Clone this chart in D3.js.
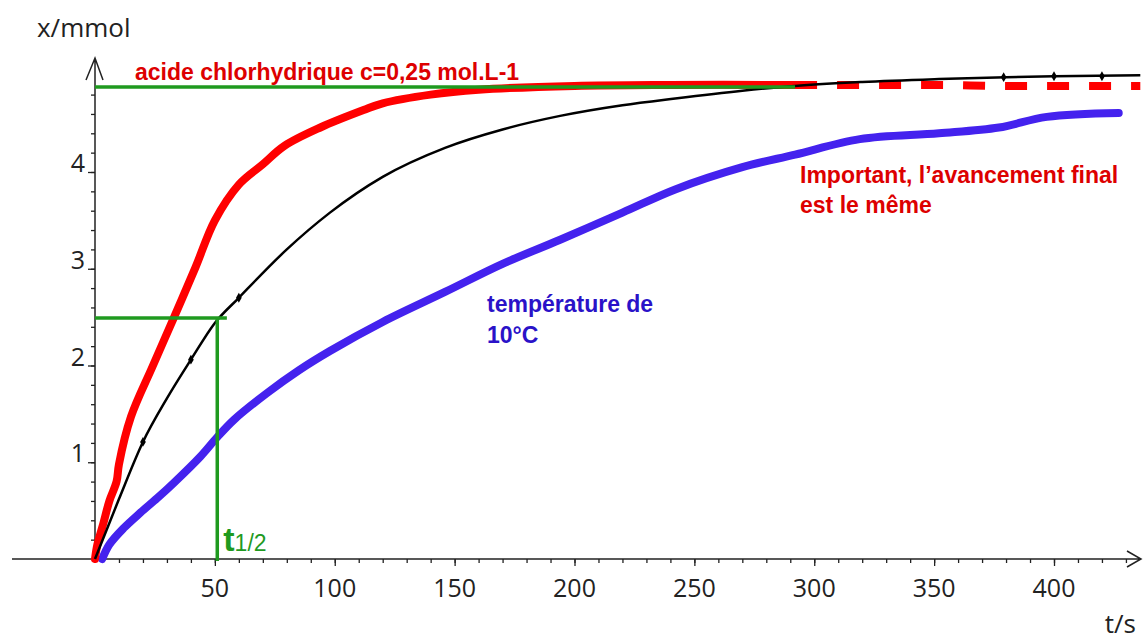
<!DOCTYPE html>
<html>
<head>
<meta charset="utf-8">
<script src="https://cdn.jsdelivr.net/npm/d3@7"></script>
<style>
  body { margin: 0; background: #fff; }
</style>
</head>
<body>
<script>
// ==== data ====
var redTimes = [0, 1, 3.5, 6, 9, 10, 15, 24, 33, 42, 50, 60, 70, 79, 94, 112, 120, 140, 160, 200, 240, 292];
var redValues = [0, 0.15, 0.37, 0.6, 0.8, 0.98, 1.47, 1.99, 2.5, 3.02, 3.5, 3.87, 4.08, 4.27, 4.46, 4.64, 4.71, 4.8, 4.85, 4.89, 4.9, 4.9];

var redDashTimes = [292, 320, 350, 380, 410, 436];
var redDashValues = [4.9, 4.9, 4.9, 4.89, 4.89, 4.89];

var blackTimes = [0, 10, 20, 30, 40, 50, 60, 80, 98, 120, 146, 170, 194, 220, 242, 270, 292, 320, 352, 380, 400, 436];
var blackValues = [0, 0.62, 1.21, 1.66, 2.06, 2.44, 2.7, 3.2, 3.58, 3.95, 4.25, 4.44, 4.58, 4.69, 4.76, 4.84, 4.89, 4.93, 4.96, 4.98, 4.99, 5.0];

var markerTimes = [20, 40, 60, 379, 400, 420];
var markerValues = [1.21, 2.06, 2.7, 4.98, 4.99, 4.99];

var blueTimes = [3, 6, 12, 19, 26, 33, 44, 51, 58, 72, 85, 98, 120, 146, 170, 194, 220, 242, 270, 292, 319, 352, 377, 397, 427];
var blueValues = [0, 0.15, 0.32, 0.48, 0.63, 0.79, 1.06, 1.26, 1.44, 1.72, 1.95, 2.15, 2.45, 2.76, 3.05, 3.3, 3.58, 3.82, 4.05, 4.18, 4.34, 4.4, 4.46, 4.57, 4.61];

var xMajorTicks = [50, 100, 150, 200, 250, 300, 350, 400];
var yMajorTicks = [1, 2, 3, 4];

var finalValue = 4.9,
    finalEnd = 292,
    halfTime = 51,
    halfValue = 2.49,
    halfEnd = 55;

function draw_chart(elem) {

    var red_col = "#ff0000",
        blue_col = "#4422ee",
        green_col = "#1f9a1f",
        text_red = "#dd0000",
        text_blue = "#2a12c8",
        axis_col = "#222";

    var width = 1143,
        height = 641;

    var svg = d3.select(elem)
        .append("svg")
        .attr("width", width)
        .attr("height", height);

    var x = d3.scaleLinear()
        .domain([0, 400])
        .range([95, 1054]);

    var y = d3.scaleLinear()
        .domain([0, 4])
        .range([559, 172]);

    // ==== axes ====
    var xMinor = d3.range(10, 440, 10);
    var yMinor = d3.range(1, 25).map(function(i) { return i * 0.2; });

    svg.append("g")
        .attr("transform", "translate(0," + y(0) + ")")
        .call(d3.axisBottom(x).tickValues(xMinor).tickSize(4).tickFormat(""))
        .call(function(g) { g.select(".domain").remove(); });

    svg.append("g")
        .attr("transform", "translate(0," + y(0) + ")")
        .call(d3.axisBottom(x).tickValues(xMajorTicks).tickSize(7).tickFormat(""))
        .call(function(g) { g.select(".domain").remove(); });

    svg.append("g")
        .attr("transform", "translate(" + x(0) + ",0)")
        .call(d3.axisLeft(y).tickValues(yMinor).tickSize(4).tickFormat(""))
        .call(function(g) { g.select(".domain").remove(); });

    svg.append("g")
        .attr("transform", "translate(" + x(0) + ",0)")
        .call(d3.axisLeft(y).tickValues(yMajorTicks).tickSize(7).tickFormat(""))
        .call(function(g) { g.select(".domain").remove(); });

    svg.selectAll(".tick line")
        .attr("stroke", axis_col)
        .attr("stroke-width", 1.3);

    // axis lines with open arrow heads
    svg.append("path")
        .attr("d", "M12," + y(0) + "H1141" + "M1127,551L1141," + y(0) + "L1127,567")
        .attr("fill", "none")
        .attr("stroke", axis_col)
        .attr("stroke-width", 1.5);

    svg.append("path")
        .attr("d", "M" + x(0) + "," + y(0) + "V58" + "M86,80L" + x(0) + ",58L103,80")
        .attr("fill", "none")
        .attr("stroke", axis_col)
        .attr("stroke-width", 1.5);

    svg.append("g").selectAll("text")
        .data(xMajorTicks)
        .join("text")
        .text(function(d) { return d; })
        .attr("x", function(d) { return x(d); })
        .attr("y", 597)
        .attr("text-anchor", "middle")
        .attr("font-family", '"Open Sans", sans-serif')
        .attr("font-size", "25px")
        .attr("fill", axis_col);

    svg.append("g").selectAll("text")
        .data(yMajorTicks)
        .join("text")
        .text(function(d) { return d; })
        .attr("x", 85)
        .attr("y", function(d) { return y(d); })
        .attr("text-anchor", "end")
        .attr("font-family", '"Open Sans", sans-serif')
        .attr("font-size", "25px")
        .attr("fill", axis_col);

    svg.append("text")
        .text("x/mmol")
        .attr("x", 37)
        .attr("y", 37)
        .attr("font-family", '"Open Sans", sans-serif')
        .attr("font-size", "26px")
        .attr("fill", axis_col);

    svg.append("text")
        .text("t/s")
        .attr("x", 1136)
        .attr("y", 633)
        .attr("text-anchor", "end")
        .attr("font-family", '"Open Sans", sans-serif')
        .attr("font-size", "26px")
        .attr("fill", axis_col);

    // ==== curves ====
    var line = d3.line()
        .x(function(d) { return x(d[0]); })
        .y(function(d) { return y(d[1]); })
        .curve(d3.curveMonotoneX);

    var smooth = d3.line()
        .x(function(d) { return x(d[0]); })
        .y(function(d) { return y(d[1]); })
        .curve(d3.curveCatmullRom);

    svg.append("path")
        .datum(d3.zip(blueTimes, blueValues))
        .attr("d", smooth)
        .attr("fill", "none")
        .attr("stroke", blue_col)
        .attr("stroke-width", 8)
        .attr("stroke-linecap", "round");

    svg.append("path")
        .datum(d3.zip(redDashTimes, redDashValues))
        .attr("d", line)
        .attr("fill", "none")
        .attr("stroke", red_col)
        .attr("stroke-width", 8)
        .attr("stroke-dasharray", "22,20");

    svg.append("path")
        .datum(d3.zip(redTimes, redValues))
        .attr("d", smooth)
        .attr("fill", "none")
        .attr("stroke", red_col)
        .attr("stroke-width", 8)
        .attr("stroke-linecap", "round");

    svg.append("path")
        .datum(d3.zip(blackTimes, blackValues))
        .attr("d", line)
        .attr("fill", "none")
        .attr("stroke", "#000")
        .attr("stroke-width", 2.5);

    svg.append("g").selectAll("path")
        .data(d3.zip(markerTimes, markerValues))
        .join("path")
        .attr("d", d3.symbol().type(d3.symbolDiamond).size(28))
        .attr("transform", function(d) { return "translate(" + x(d[0]) + "," + y(d[1]) + ")"; })
        .attr("fill", "#000");

    // ==== green construction lines ====
    svg.append("line")
        .attr("x1", x(0))
        .attr("x2", x(finalEnd))
        .attr("y1", y(finalValue) + 2)
        .attr("y2", y(finalValue) + 2)
        .attr("stroke", green_col)
        .attr("stroke-width", 3.5);

    svg.append("line")
        .attr("x1", x(0))
        .attr("x2", x(halfEnd))
        .attr("y1", y(halfValue))
        .attr("y2", y(halfValue))
        .attr("stroke", green_col)
        .attr("stroke-width", 3.5);

    svg.append("line")
        .attr("x1", x(halfTime))
        .attr("x2", x(halfTime))
        .attr("y1", y(halfValue))
        .attr("y2", y(0) + 2)
        .attr("stroke", green_col)
        .attr("stroke-width", 3.5);

    var thalf = svg.append("text")
        .attr("x", x(halfTime) + 6)
        .attr("y", 551)
        .attr("font-family", '"Liberation Sans", Arial, sans-serif')
        .attr("fill", green_col);
    thalf.append("tspan")
        .text("t")
        .attr("font-size", "34px")
        .attr("font-weight", 700);
    thalf.append("tspan")
        .text("1/2")
        .attr("font-size", "23px");

    // ==== annotations ====
    svg.append("text")
        .text("acide chlorhydrique c=0,25 mol.L-1")
        .attr("x", 135)
        .attr("y", 80)
        .attr("font-family", '"Liberation Sans", Arial, sans-serif')
        .attr("font-size", "23px")
        .attr("font-weight", 700)
        .attr("fill", text_red);

    svg.append("text")
        .text("Important, l\u2019avancement final")
        .attr("x", 800)
        .attr("y", 183)
        .attr("font-family", '"Liberation Sans", Arial, sans-serif')
        .attr("font-size", "23px")
        .attr("font-weight", 700)
        .attr("fill", text_red);

    svg.append("text")
        .text("est le même")
        .attr("x", 800)
        .attr("y", 213)
        .attr("font-family", '"Liberation Sans", Arial, sans-serif')
        .attr("font-size", "23px")
        .attr("font-weight", 700)
        .attr("fill", text_red);

    svg.append("text")
        .text("température de")
        .attr("x", 487)
        .attr("y", 312)
        .attr("font-family", '"Liberation Sans", Arial, sans-serif')
        .attr("font-size", "23px")
        .attr("font-weight", 700)
        .attr("fill", text_blue);

    svg.append("text")
        .text("10°C")
        .attr("x", 487)
        .attr("y", 343)
        .attr("font-family", '"Liberation Sans", Arial, sans-serif')
        .attr("font-size", "23px")
        .attr("font-weight", 700)
        .attr("fill", text_blue);
}

draw_chart("body");
</script>
</body>
</html>
